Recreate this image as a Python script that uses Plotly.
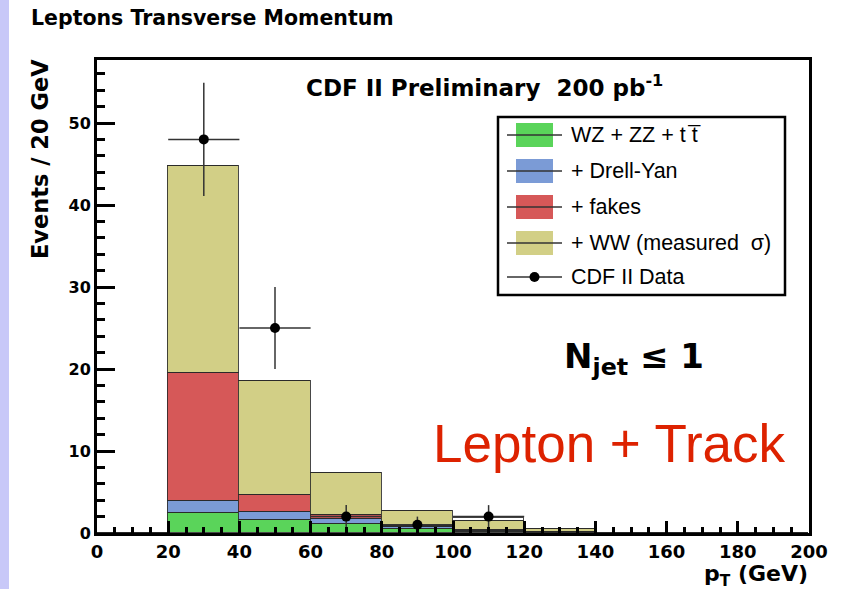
import plotly.graph_objects as go

# ---------------- data ----------------
bin_centers = [10, 30, 50, 70, 90, 110, 130, 150, 170, 190]
bin_width = 20
wz_zz_tt = [0, 2.4, 1.6, 1.1, 0.45, 0.15, 0.05, 0, 0, 0]
drell_yan = [0, 1.5, 1.0, 0.65, 0.3, 0.1, 0.02, 0, 0, 0]
fakes = [0, 15.6, 2.0, 0.4, 0.1, 0.1, 0.03, 0, 0, 0]
ww = [0, 25.3, 13.9, 5.15, 1.85, 1.1, 0.35, 0, 0, 0]
other = [0, 0, 0, 0, 0, 0.4, 0, 0, 0, 0]

data_x = [30, 50, 70, 90, 110]
data_y = [48, 25, 2, 1, 2]
data_err = [6.9, 5.0, 1.4, 1.0, 1.4]

x_ticks = [0, 20, 40, 60, 80, 100, 120, 140, 160, 180, 200]
y_ticks = [0, 10, 20, 30, 40, 50]

# ---------------- style ----------------
W, H = 846, 589
L, R, T, B = 97, 809, 60, 533
FONT = "Liberation Sans, Arial, Helvetica, sans-serif"
BFONT = "DejaVu Sans, Liberation Sans, sans-serif"
c_green = "#5ad45a"
c_blue = "#7b9bd6"
c_red = "#d65858"
c_ww = "#d2cf86"
outline = dict(color="rgba(40,40,40,0.85)", width=1.2)


def px(x):
    return (x - L) / (R - L)


def py(y):
    return (B - y) / (B - T)


fig = go.Figure()
for vals, col, name in [(wz_zz_tt, c_green, "WZ + ZZ + tt"),
                        (drell_yan, c_blue, "+ Drell-Yan"),
                        (fakes, c_red, "+ fakes"),
                        (ww, c_ww, "+ WW (measured σ)"),
                        (other, "white", "other")]:
    fig.add_trace(go.Bar(x=bin_centers, y=vals, width=bin_width, name=name,
                         marker=dict(color=col, line=outline),
                         showlegend=False))

fig.add_trace(go.Scatter(
    x=data_x, y=data_y, mode="markers", name="CDF II Data",
    marker=dict(color="black", size=10),
    error_y=dict(type="data", array=data_err, color="#333", thickness=1.5, width=0),
    error_x=dict(type="constant", value=10, color="#333", thickness=1.5, width=0),
    showlegend=False))

shapes = []
annotations = []

# lavender strip on left
shapes.append(dict(type="rect", xref="paper", yref="paper",
                   x0=px(0), x1=px(9), y0=py(H), y1=py(0),
                   fillcolor="#c8c8f8", line=dict(width=0), layer="below"))

# manual legend
shapes.append(dict(type="rect", xref="paper", yref="paper",
                   x0=px(498), x1=px(785), y0=py(295), y1=py(117),
                   fillcolor="white", line=dict(color="black", width=2.5)))
leg = [(c_green, "WZ + ZZ + t t\u0305", 135),
       (c_blue, "+ Drell-Yan", 171),
       (c_red, "+ fakes", 207),
       (c_ww, "+ WW (measured  σ)", 243)]
for col, txt, yc in leg:
    shapes.append(dict(type="rect", xref="paper", yref="paper",
                       x0=px(516), x1=px(553), y0=py(yc + 12), y1=py(yc - 12),
                       fillcolor=col, line=dict(width=0)))
    shapes.append(dict(type="line", xref="paper", yref="paper",
                       x0=px(507), x1=px(562), y0=py(yc), y1=py(yc),
                       line=dict(color="#333", width=1.3)))
    annotations.append(dict(xref="paper", yref="paper", x=px(569), y=py(yc),
                            xanchor="left", yanchor="middle", showarrow=False,
                            text=txt, font=dict(family=FONT, size=21.5, color="black")))
# data legend entry
shapes.append(dict(type="line", xref="paper", yref="paper",
                   x0=px(507), x1=px(562), y0=py(277), y1=py(277),
                   line=dict(color="#333", width=1.3)))
shapes.append(dict(type="circle", xref="paper", yref="paper",
                   x0=px(529.5), x1=px(539.5), y0=py(282), y1=py(272),
                   fillcolor="black", line=dict(width=0)))
annotations.append(dict(xref="paper", yref="paper", x=px(569), y=py(277),
                        xanchor="left", yanchor="middle", showarrow=False,
                        text="CDF II Data", font=dict(family=FONT, size=21.5, color="black")))

# texts
annotations += [
    dict(xref="paper", yref="paper", x=px(29), y=py(18), xanchor="left", yanchor="middle",
         showarrow=False, text="<b>Leptons Transverse Momentum</b>",
         font=dict(family=BFONT, size=20.5, color="black")),
    dict(xref="paper", yref="paper", x=px(304), y=py(86), xanchor="left", yanchor="middle",
         showarrow=False, text="<b>CDF II Preliminary  200 pb<sup>-1</sup></b>",
         font=dict(family=BFONT, size=23, color="black")),
    dict(xref="paper", yref="paper", x=px(40), y=py(57), xanchor="center", yanchor="top",
         textangle=-90, showarrow=False, text="<b>Events / 20 GeV</b>",
         font=dict(family=BFONT, size=22.5, color="black")),
    dict(xref="paper", yref="paper", x=px(810), y=py(575), xanchor="right", yanchor="middle",
         showarrow=False, text="<b>p<sub>T</sub> (GeV)</b>",
         font=dict(family=BFONT, size=22, color="black")),
    dict(xref="paper", yref="paper", x=px(562), y=py(358), xanchor="left", yanchor="middle",
         showarrow=False, text="<b>N<sub>jet</sub> \u2264 1</b>",
         font=dict(family=BFONT, size=34, color="black")),
    dict(xref="paper", yref="paper", x=px(431), y=py(443), xanchor="left", yanchor="middle",
         showarrow=False, text="Lepton + Track",
         font=dict(family=FONT, size=53, color="#dd2200")),
]

fig.update_layout(
    width=W, height=H,
    margin=dict(l=L, r=W - R, t=T, b=H - B, pad=0),
    paper_bgcolor="white", plot_bgcolor="white",
    barmode="stack", bargap=0,
    shapes=shapes, annotations=annotations,
    showlegend=False,
    font=dict(family=FONT, color="black"),
)
fig.update_xaxes(
    range=[0, 200], tickmode="array", tickvals=x_ticks,
    ticktext=[str(v) for v in x_ticks],
    tickfont=dict(family=BFONT, size=18, color="black", weight="bold"),
    ticks="inside", ticklen=12, tickwidth=2.5, tickcolor="black",
    minor=dict(ticks="inside", ticklen=6, tickwidth=2.5, tickcolor="black", dtick=5, showgrid=False),
    showline=True, linecolor="black", linewidth=3, mirror=True,
    showgrid=False, zeroline=False, fixedrange=True,
)
fig.update_yaxes(
    range=[0, (B - T) / 8.2], tickmode="array", tickvals=y_ticks,
    ticktext=[str(v) for v in y_ticks],
    tickfont=dict(family=BFONT, size=16, color="black", weight="bold"),
    ticks="inside", ticklen=18, tickwidth=2.5, tickcolor="black",
    minor=dict(ticks="inside", ticklen=8, tickwidth=2.5, tickcolor="black", dtick=2, showgrid=False),
    showline=True, linecolor="black", linewidth=3, mirror=True,
    showgrid=False, zeroline=False, fixedrange=True,
)

fig.write_html("out.html")
